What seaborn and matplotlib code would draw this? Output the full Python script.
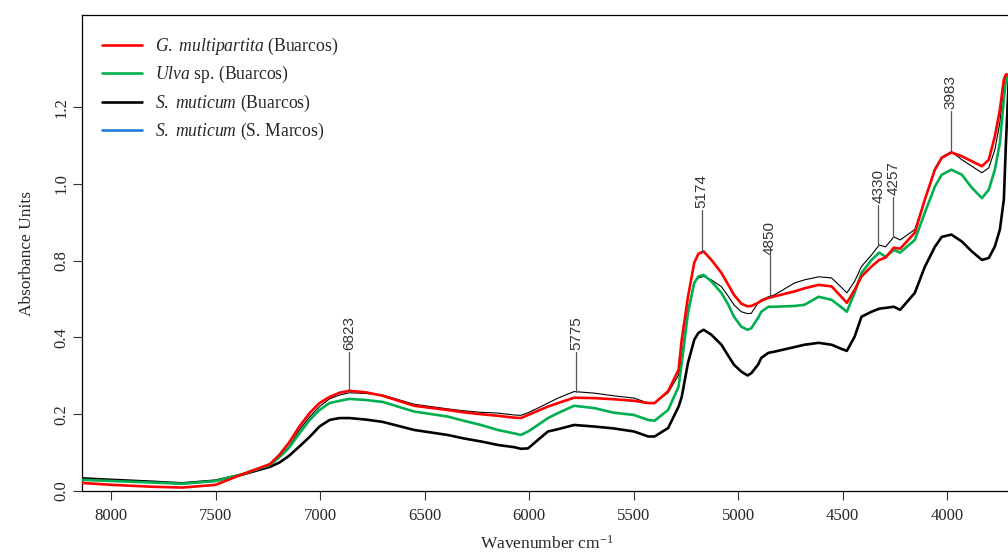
import numpy as np
import pandas as pd
import matplotlib
matplotlib.use("Agg")
import matplotlib.pyplot as plt
import seaborn as sns
from matplotlib.lines import Line2D

# ---- data ----
wavenumber = [8140, 7995, 7800, 7660, 7500, 7370, 7240, 7195, 7150, 7099, 7050, 7003, 6955,
              6907, 6860, 6780, 6700, 6550, 6390, 6313, 6230, 6150, 6070, 6040, 6005, 5958,
              5910, 5862, 5785, 5689, 5595, 5498, 5430, 5400, 5335, 5285, 5270, 5240, 5210,
              5190, 5165, 5128, 5080, 5047, 5020, 4985, 4955, 4937, 4905, 4889, 4855, 4826,
              4730, 4683, 4615, 4553, 4505, 4480, 4443, 4410, 4362, 4325, 4295, 4255, 4225,
              4155, 4107, 4059, 4026, 3980, 3930, 3882, 3834, 3801, 3772, 3748, 3729, 3719,
              3705]
g_multipartita = [.021, .016, .011, .009, .016, .044, .070, .094, .125, .168, .203, .229, .245,
                  .256, .261, .257, .248, .222, .211, .205, .200, .196, .191, .190, .198, .209,
                  .220, .229, .243, .242, .239, .235, .229, .229, .260, .316, .394, .506, .595,
                  .618, .624, .602, .568, .537, .511, .488, .481, .482, .490, .496, .503, .507,
                  .520, .528, .537, .533, .505, .490, .524, .559, .585, .602, .608, .634, .631,
                  .673, .759, .837, .868, .882, .872, .859, .846, .863, .924, .993, 1.072, 1.085,
                  1.085]
ulva = [.029, .026, .022, .019, .026, .044, .068, .088, .112, .150, .185, .211, .229,
        .235, .240, .237, .232, .207, .194, .183, .172, .159, .150, .146, .155, .172,
        .190, .203, .222, .216, .204, .198, .185, .183, .211, .272, .334, .464, .542,
        .559, .563, .546, .516, .485, .454, .428, .420, .424, .451, .467, .480, .480,
        .482, .485, .506, .498, .478, .467, .516, .568, .602, .621, .610, .628, .621,
        .654, .725, .793, .824, .837, .824, .790, .763, .785, .837, .907, 1.020, 1.072,
        1.085]
s_muticum_buarcos = [.033, .029, .024, .020, .027, .043, .063, .074, .091, .116, .141, .168, .185,
                     .190, .190, .186, .180, .159, .146, .137, .129, .120, .114, .110, .111, .133,
                     .155, .161, .172, .168, .163, .155, .142, .142, .164, .220, .245, .334, .394,
                     .412, .420, .407, .381, .352, .329, .311, .301, .307, .329, .347, .360, .363,
                     .375, .381, .386, .381, .370, .365, .402, .454, .467, .475, .477, .480, .472,
                     .516, .584, .636, .662, .668, .650, .624, .602, .607, .637, .681, .759, .907,
                     1.077]
s_muticum_thin = [.031, .027, .023, .020, .026, .044, .068, .089, .115, .159, .193, .220, .240,
                  .250, .256, .254, .250, .226, .214, .209, .205, .203, .198, .197, .204, .216,
                  .229, .242, .259, .255, .248, .242, .229, .230, .256, .302, .350, .472, .545,
                  .555, .559, .550, .532, .507, .485, .467, .462, .463, .490, .498, .506, .511,
                  .542, .550, .558, .555, .530, .516, .546, .585, .615, .641, .636, .662, .654,
                  .681, .759, .840, .870, .884, .863, .846, .829, .842, .889, .960, 1.054, 1.077,
                  1.085]

legend_labels = [r"$\mathit{G.\ multipartita}$ (Buarcos)",
                 r"$\mathit{Ulva}$ sp. (Buarcos)",
                 r"$\mathit{S.\ muticum}$ (Buarcos)",
                 r"$\mathit{S.\ muticum}$ (S. Marcos)"]
legend_colors = ["#ff0000", "#00b050", "#000000", "#1f7fd6"]

peak_pos = [6860, 5775, 5174, 4850, 4330, 4257, 3983]
peak_labels = ["6823", "5775", "5174", "4850", "4330", "4257", "3983"]
peak_base = [0.258, 0.258, 0.626, 0.506, 0.641, 0.662, 0.884]

ytick_pos = [0.0, 0.2, 0.4, 0.6, 0.8, 1.0]
ytick_labels = ["0.0", "0.2", "0.4", "0.8", "1.0", "1.2"]
xtick_pos = [8000, 7500, 7000, 6500, 6000, 5500, 5000, 4500, 4000]

# ---- style ----
sns.set_style("ticks")
plt.rcParams['font.family'] = ['Liberation Serif', 'DejaVu Serif']
plt.rcParams['mathtext.fontset'] = 'custom'
plt.rcParams['mathtext.rm'] = 'Liberation Serif'
plt.rcParams['mathtext.it'] = 'Liberation Serif:italic'

fig = plt.figure(figsize=(10.08, 5.53), dpi=100)
W, H = 1008, 553
ax = fig.add_axes([82 / W, (H - 491) / H, (1012 - 82) / W, (491 - 15) / H])

df = pd.DataFrame({"wn": wavenumber, "red": g_multipartita, "green": ulva,
                   "black": s_muticum_buarcos, "thin": s_muticum_thin})

sns.lineplot(data=df, x="wn", y="thin", color="black", lw=0.8, ax=ax, estimator=None, zorder=2)
sns.lineplot(data=df, x="wn", y="black", color="black", lw=1.9, ax=ax, estimator=None, zorder=3)
sns.lineplot(data=df, x="wn", y="green", color=legend_colors[1], lw=1.9, ax=ax, estimator=None, zorder=4)
sns.lineplot(data=df, x="wn", y="red", color=legend_colors[0], lw=1.9, ax=ax, estimator=None, zorder=5)

for p, lab, b in zip(peak_pos, peak_labels, peak_base):
    ax.plot([p, p], [b, b + 0.105], color="#555555", lw=0.9, zorder=6)
    ax.text(p, b + 0.11, lab, rotation=90, ha="center", va="bottom",
            fontsize=11, color="#333333", family=["Liberation Sans", "DejaVu Sans"])

ax.set_xlim(8139, 3690)
ax.set_ylim(0, 1.24)
ax.set_xticks(xtick_pos)
ax.set_xticklabels([str(x) for x in xtick_pos], fontsize=12)
ax.set_yticks(ytick_pos)
ax.set_yticklabels(ytick_labels, fontsize=12, rotation=90, va="center")
ax.tick_params(axis="both", direction="out", length=6.3, width=0.8, color="#333333")
ax.tick_params(axis="x", pad=6)
ax.tick_params(axis="y", pad=3)
ax.set_xlabel(r"Wavenumber cm$^{-1}$", fontsize=12.5, labelpad=8)
ax.set_ylabel("Absorbance Units", fontsize=12.5, labelpad=13)
for s in ["left", "bottom", "top"]:
    ax.spines[s].set_visible(True)
    ax.spines[s].set_linewidth(0.9)
    ax.spines[s].set_color("black")
ax.spines["right"].set_visible(False)

handles = [Line2D([0], [0], color=c, lw=1.9) for c in legend_colors]
ax.legend(handles, legend_labels, loc="upper left", bbox_to_anchor=(0.004, 0.99),
          frameon=False, fontsize=12.7, handlelength=2.3, handletextpad=0.7, labelspacing=0.42)

fig.savefig("out.png", dpi=100)
